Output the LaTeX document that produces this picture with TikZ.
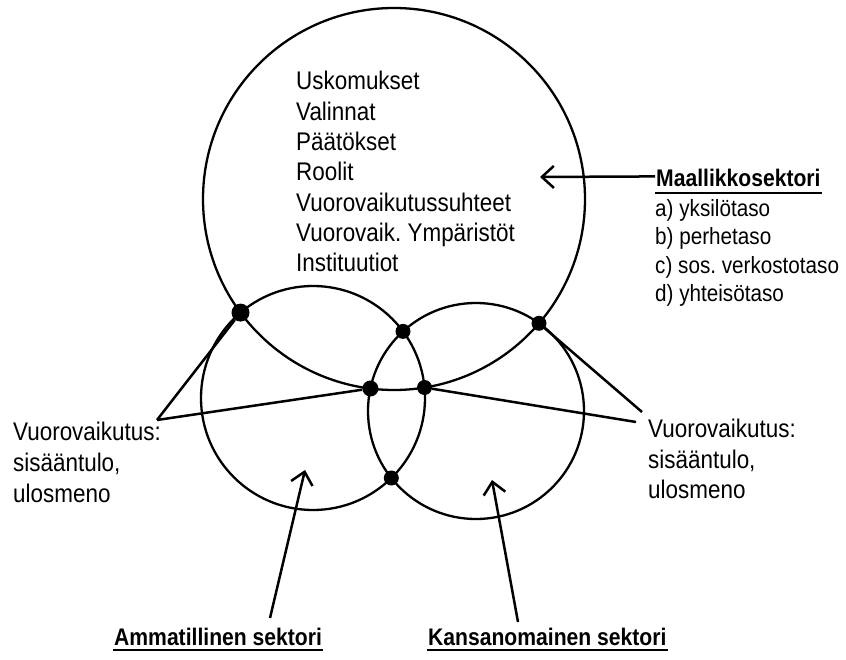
\documentclass[tikz,border=0pt]{standalone}
\usepackage{fontspec}
\setmainfont{Liberation Sans}[FakeStretch=0.88]
\usetikzlibrary{arrows.meta}
\frenchspacing
\tikzset{
	sektori/.style={line width=2.3pt},
	piste/.style={circle,fill,inner sep=0pt},
	teksti/.style={anchor=base west,inner sep=1pt,font=\fontsize{25.5}{30}\selectfont},
	lista/.style={teksti,font=\fontsize{23.5}{28}\selectfont},
	otsikko/.style={anchor=base west,inner sep=1pt,font=\fontsize{24}{28}\selectfont\bfseries},
	viiva/.style={line width=2.5pt},
	nuoli/.style={line width=2.5pt,-{Straight Barb[length=12pt,width=22pt]}}
}
\begin{document}
\begin{tikzpicture}[x=1pt,y=-1pt]
			\useasboundingbox (0,0) rectangle (846,660);
			% sektorit
			\draw[sektori] (394,199) circle[radius=191pt];
			\draw[sektori] (313,398) circle[radius=112pt];
			\draw[sektori] (476,411) circle[radius=108pt];
			%
			\def\pisteet {pA/240.5/312.6/18, pB/403/331.4/15, pC/539/323.3/15, pD/370.4/388.5/16, pE/391.3/478/15, pF/424.5/387.5/15}  % leikkauspisteet
			\foreach \n/\x/\y/\s in \pisteet
			{	\node[piste,minimum size=\s pt] (\n) at (\x,\y) {};
			}
			%
			\foreach \t [count=\i] in {Uskomukset, Valinnat, Päätökset, Roolit, Vuorovaikutussuhteet, Vuorovaik. Ympäristöt, Instituutiot}
			{	\node[teksti] (k\i) at (295, 59.7+30.3*\i) {\t};
			}
			%
			\node[otsikko] (maal) at (655,187) {Maallikkosektori};
			\draw[line width=2pt] ([yshift=-6pt]maal.base west) -- ([yshift=-6pt]maal.base east);
			\foreach \t [count=\i] in {a) yksilötaso, b) perhetaso, c) sos. verkostotaso, d) yhteisötaso}
			{	\node[lista] (m\i) at (654, 187.5+28.6*\i) {\t};
			}
			\coordinate (mkarki) at (540,177);
			\draw[nuoli] ([yshift=2pt]maal.west) -- (mkarki);
			%
			\foreach \t [count=\i] in {Vuorovaikutus:, {sisääntulo,}, ulosmeno}
			{	\node[teksti] (vv\i) at (12, 409+31*\i) {\t};
				\node[teksti] (vo\i) at (647, 407+30.5*\i) {\t};
			}
			\coordinate (vvk) at (157,420);
			\coordinate (vok1) at (642,412);
			\coordinate (vok2) at (636,422);
			\def\viivat {vvk/pA, vvk/pD, vok1/pC, vok2/pF}
			\foreach \u/\v in \viivat
			{	\draw[viiva] (\u) -- (\v);
			}
			%
			\node[otsikko] (amm) at (113,645) {Ammatillinen sektori};
			\node[otsikko] (kans) at (427,645) {Kansanomainen sektori};
			\foreach \s in {amm, kans}
			{	\draw[line width=2pt] ([yshift=-5pt]\s.base west) -- ([yshift=-5pt]\s.base east);
			}
			\coordinate (a0) at (270,618);
			\coordinate (a1) at (305,470);
			\coordinate (k0) at (518,622);
			\coordinate (k1) at (492,480);
			\draw[nuoli] (a0) -- (a1);
			\draw[nuoli] (k0) -- (k1);
			%
\end{tikzpicture}
\end{document}
